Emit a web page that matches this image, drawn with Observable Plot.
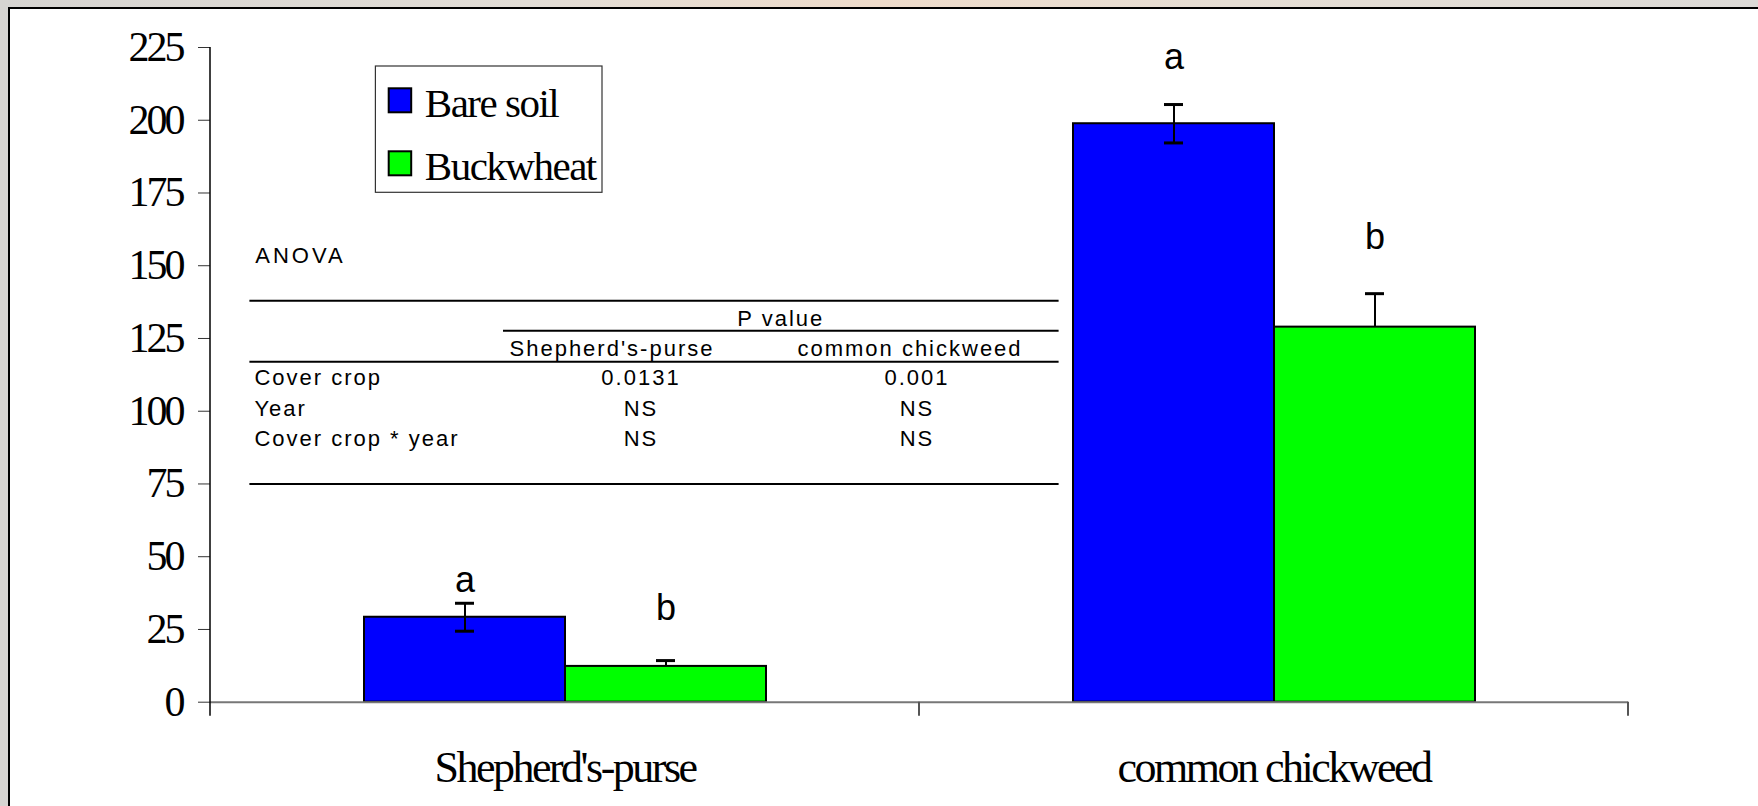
<!DOCTYPE html>
<html>
<head>
<meta charset="utf-8">
<script src="https://cdn.jsdelivr.net/npm/d3@7"></script>
<script src="https://cdn.jsdelivr.net/npm/@observablehq/plot@0.6"></script>
<style>
  html, body { margin: 0; padding: 0; width: 1758px; height: 806px; overflow: hidden;
    background: linear-gradient(90deg, #d6d4d1 0%, #e2ddd6 30%, #efdccb 50%, #e6ded4 70%, #dcdad7 100%); }
  #stage { position: relative; width: 1758px; height: 806px; }
  #frame { position: absolute; left: 8px; top: 7px; width: 1800px; height: 900px; background: #fff;
    border-top: 2px solid #000; border-left: 2px solid #000; }
  #plot, #overlay { position: absolute; left: 0; top: 0; }
</style>
</head>
<body>
<div id="stage">
  <div id="frame"></div>
  <div id="plot"></div>
  <svg id="overlay" width="1758" height="806"></svg>
</div>
<script>
// ---------- data ----------
const categories = ["Shepherd's-purse", "common chickweed"];
const series = ["Bare soil", "Buckwheat"];
const seriesColors = ["#0000ff", "#00ff00"];
const bareSoilMean = [29.2, 198.8];
const buckwheatMean = [12.3, 128.9];
const bareSoilErr = [4.8, 6.6];
const buckwheatErr = [2.0, 11.5];
const errorDirection = ["both", "plus"];          // per series
const bareSoilLetters = ["a", "a"];
const buckwheatLetters = ["b", "b"];
const bareSoilLetterY = [38.0, 217.7];            // letter anchors, in data units
const buckwheatLetterY = [28.4, 155.9];
const yTicks = [0, 25, 50, 75, 100, 125, 150, 175, 200, 225];

const anovaTitle = "ANOVA";
const anovaHeader = "P value";
const anovaColumns = ["Shepherd's-purse", "common chickweed"];
const anovaRows = ["Cover crop", "Year", "Cover crop * year"];
const anovaShepherd = ["0.0131", "NS", "NS"];
const anovaChickweed = ["0.001", "NS", "NS"];

// ---------- table for Plot ----------
const means = [bareSoilMean, buckwheatMean];
const errs = [bareSoilErr, buckwheatErr];
const letters = [bareSoilLetters, buckwheatLetters];
const letterYs = [bareSoilLetterY, buckwheatLetterY];
const data = [];
categories.forEach((c, i) => {
  series.forEach((s, j) => {
    data.push({category: c, series: s, mean: means[j][i], err: errs[j][i], dir: errorDirection[j],
               letter: letters[j][i], letterY: letterYs[j][i]});
  });
});
const lower = d => d.dir === "both" ? d.mean - d.err : d.mean;
const upper = d => d.mean + d.err;
const caps = data.flatMap(d => d.dir === "both"
  ? [{...d, capY: upper(d)}, {...d, capY: d.mean - d.err}]
  : [{...d, capY: upper(d)}]);

const serif = "'Liberation Serif', 'Times New Roman', serif";
const sans = "'Liberation Sans', Arial, sans-serif";

const chart = Plot.plot({
  width: 1758,
  height: 806,
  marginLeft: 210,
  marginRight: 129.3,
  marginTop: 47,
  marginBottom: 104.3,
  style: {background: "transparent", overflow: "visible", color: "#000"},
  fx: {domain: categories, padding: 0, label: null},
  x: {domain: series, paddingInner: 0, paddingOuter: 0.756, axis: null},
  y: {domain: [0, 225], label: null},
  color: {domain: series, range: seriesColors},
  marks: [
    Plot.axisY({ticks: yTicks, tickSize: 12, tickPadding: 16, fontSize: 42, fontFamily: serif, label: null, tickFormat: d => String(d)}),
    Plot.axisFx({anchor: "bottom", tickSize: 0, tickPadding: 49, fontSize: 44, fontFamily: serif, label: null}),
    Plot.barY(data, {fx: "category", x: "series", y: "mean", fill: "series", stroke: "#000", strokeWidth: 2}),
    Plot.ruleY([0], {stroke: "#777", strokeWidth: 2}),
    Plot.ruleX(data, {fx: "category", x: "series", y1: lower, y2: upper, stroke: "#000", strokeWidth: 2}),
    Plot.tickY(caps, {fx: "category", x: "series", y: "capY", insetLeft: 91, insetRight: 91, stroke: "#000", strokeWidth: 3}),
    Plot.text(data, {fx: "category", x: "series", y: "letterY", text: "letter", fontSize: 36, fontFamily: sans, lineAnchor: "bottom", fill: "#000"})
  ]
});
document.getElementById("plot").appendChild(chart);

const svg = d3.select(chart);
svg.selectAll('g[aria-label="y-axis tick label"] text').style("letter-spacing", "-3px");
svg.selectAll('g[aria-label="fx-axis tick label"] text').style("letter-spacing", "-2.5px");
svg.selectAll('g[aria-label="y-axis tick"] path').attr("stroke", "#333");

// y-axis line and category boundary ticks, positioned through Plot's scales
const fxS = chart.scale("fx"), yS = chart.scale("y");
const base = yS.apply(0);
const bounds = categories.map(c => fxS.apply(c)).concat([fxS.apply(categories[categories.length - 1]) + fxS.bandwidth]);
svg.append("line").attr("x1", bounds[0]).attr("x2", bounds[0])
  .attr("y1", yS.apply(yTicks[yTicks.length - 1])).attr("y2", base + 14)
  .attr("stroke", "#000").attr("stroke-width", 1.5);
bounds.slice(1).forEach(b => {
  svg.append("line").attr("x1", b).attr("x2", b).attr("y1", base).attr("y2", base + 14)
    .attr("stroke", "#555").attr("stroke-width", 2);
});

// ---------- legend & ANOVA table overlay ----------
const ov = d3.select("#overlay");
const lg = ov.append("g");
lg.append("rect").attr("x", 375.4).attr("y", 66).attr("width", 226.6).attr("height", 126.3)
  .attr("fill", "#fff").attr("stroke", "#333").attr("stroke-width", 1.2);
series.forEach((s, i) => {
  lg.append("rect").attr("x", 388.7).attr("y", 88.3 + i * 63).attr("width", 22.5).attr("height", 24)
    .attr("fill", seriesColors[i]).attr("stroke", "#000").attr("stroke-width", 2);
  lg.append("text").attr("x", 424.8).attr("y", 116.7 + i * 63.3).text(s)
    .attr("font-family", serif).attr("font-size", 41).attr("letter-spacing", "-1.5px").attr("fill", "#000");
});

const tb = ov.append("g").attr("font-family", sans).attr("font-size", 22).attr("fill", "#000").attr("letter-spacing", "2px");
tb.append("text").attr("x", 255.3).attr("y", 263.3).attr("letter-spacing", "3px").text(anovaTitle);
const rule = (x1, x2, yy) => tb.append("line").attr("x1", x1).attr("x2", x2).attr("y1", yy).attr("y2", yy)
  .attr("stroke", "#000").attr("stroke-width", 2);
rule(249.4, 1058.6, 300.7);
rule(503, 1058.6, 330.7);
rule(249.4, 1058.6, 361.7);
rule(249.4, 1058.6, 484);
tb.append("text").attr("x", 780.8).attr("y", 325.7).attr("text-anchor", "middle").text(anovaHeader);
const headX = [612, 910];
const valX = [641, 917];
anovaColumns.forEach((c, i) => tb.append("text").attr("x", headX[i]).attr("y", 355.7).attr("text-anchor", "middle").text(c));
const rowY = [385, 415.7, 445.7];
anovaRows.forEach((r, i) => {
  tb.append("text").attr("x", 254.4).attr("y", rowY[i]).text(r);
  tb.append("text").attr("x", valX[0]).attr("y", rowY[i]).attr("text-anchor", "middle").text(anovaShepherd[i]);
  tb.append("text").attr("x", valX[1]).attr("y", rowY[i]).attr("text-anchor", "middle").text(anovaChickweed[i]);
});
</script>
</body>
</html>
